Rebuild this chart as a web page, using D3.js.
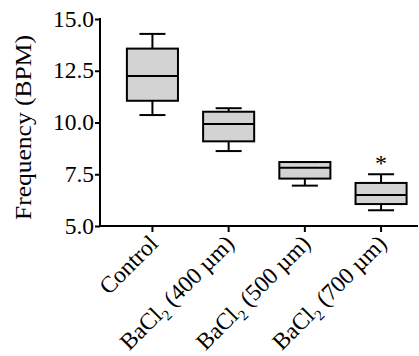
<!DOCTYPE html>
<html>
<head>
<meta charset="utf-8">
<script src="https://cdn.jsdelivr.net/npm/d3@7/dist/d3.min.js"></script>
<style>
  html, body { margin: 0; padding: 0; background: #fff; }
  svg { display: block; }
  text { font-family: "Liberation Serif", "Times New Roman", serif; fill: #000; }
</style>
</head>
<body>
<svg id="chart" width="419" height="356"></svg>
<script>
// Heart-rate box plots per treatment group
const groups   = ["Control", "400", "500", "700"];
const mins     = [10.36, 8.62, 6.95, 5.76];
const q1s      = [11.05, 9.09, 7.29, 6.06];
const medians  = [12.25, 9.93, 7.82, 6.50];
const q3s      = [13.57, 10.52, 8.09, 7.08];
const maxs     = [14.28, 10.69, 8.09, 7.50];
const marks    = ["", "", "", "*"];
const yTicks   = [5.0, 7.5, 10.0, 12.5, 15.0];

const svg = d3.select("#chart");
const plotLeft = 100, plotRight = 418, plotTop = 19, plotBottom = 226;
const fontSize = 23.5;

const y = d3.scaleLinear().domain([5, 15]).range([plotBottom, plotTop]);
const x = d3.scaleBand().domain(groups).range([101.75, 431.75]).padding(0.33);

const boxW = x.bandwidth();
const capW = 26;

// Axes
const yAxis = d3.axisLeft(y).tickValues(yTicks).tickFormat(d3.format(".1f"))
  .tickSize(5).tickPadding(1);
const gy = svg.append("g").attr("transform", `translate(${plotLeft},0)`).call(yAxis);
gy.select(".domain").remove();
gy.selectAll(".tick line").attr("stroke", "#000").attr("stroke-width", 2);
gy.selectAll(".tick text").attr("font-size", fontSize).attr("dy", "0.3em");

svg.append("line").attr("x1", plotLeft).attr("x2", plotLeft).attr("y1", plotTop - 1).attr("y2", plotBottom + 1)
  .attr("stroke", "#000").attr("stroke-width", 2);
svg.append("line").attr("x1", plotLeft - 1).attr("x2", plotRight).attr("y1", plotBottom).attr("y2", plotBottom)
  .attr("stroke", "#000").attr("stroke-width", 2);

// Category ticks
svg.selectAll(".xtick").data(groups).join("line")
  .attr("x1", d => x(d) + boxW / 2).attr("x2", d => x(d) + boxW / 2)
  .attr("y1", plotBottom).attr("y2", plotBottom + 6)
  .attr("stroke", "#000").attr("stroke-width", 2);

// Category labels, rotated
const labels = svg.selectAll(".xlab").data(groups).join("text")
  .attr("font-size", fontSize)
  .attr("text-anchor", "end")
  .attr("transform", d => `translate(${x(d) + boxW / 2 + 7},${plotBottom + 19}) rotate(-45)`);
labels.each(function(d) {
  const t = d3.select(this);
  if (d === "Control") { t.text("Control"); return; }
  t.append("tspan").text("BaCl");
  t.append("tspan").attr("font-size", 15).attr("dy", 6).text("2");
  t.append("tspan").attr("dy", -6).text(` (${d} µm)`);
});

// Boxes
const data = groups.map((g, i) => ({ g, min: mins[i], q1: q1s[i], med: medians[i], q3: q3s[i], max: maxs[i], mark: marks[i] }));
const box = svg.selectAll(".box").data(data).join("g");
box.append("line")
  .attr("x1", d => x(d.g) + boxW / 2).attr("x2", d => x(d.g) + boxW / 2)
  .attr("y1", d => y(d.max)).attr("y2", d => y(d.min))
  .attr("stroke", "#000").attr("stroke-width", 2);
box.append("rect")
  .attr("x", d => x(d.g)).attr("width", boxW)
  .attr("y", d => y(d.q3)).attr("height", d => y(d.q1) - y(d.q3))
  .attr("fill", "#d3d3d3").attr("stroke", "#000").attr("stroke-width", 2);
box.append("line")
  .attr("x1", d => x(d.g)).attr("x2", d => x(d.g) + boxW)
  .attr("y1", d => y(d.med)).attr("y2", d => y(d.med))
  .attr("stroke", "#000").attr("stroke-width", 2);
["max", "min"].forEach(k => {
  box.append("line")
    .attr("x1", d => x(d.g) + boxW / 2 - capW / 2).attr("x2", d => x(d.g) + boxW / 2 + capW / 2)
    .attr("y1", d => y(d[k])).attr("y2", d => y(d[k]))
    .attr("stroke", "#000").attr("stroke-width", 2);
});
box.append("text")
  .attr("x", d => x(d.g) + boxW / 2).attr("y", d => y(d.max) - 3)
  .attr("text-anchor", "middle").attr("font-size", 24)
  .text(d => d.mark);

// Y axis title
svg.append("text")
  .attr("transform", `translate(31,127.5) rotate(-90)`)
  .attr("text-anchor", "middle").attr("font-size", 24)
  .attr("textLength", 185).attr("lengthAdjust", "spacingAndGlyphs")
  .text("Frequency (BPM)");
</script>
</body>
</html>
